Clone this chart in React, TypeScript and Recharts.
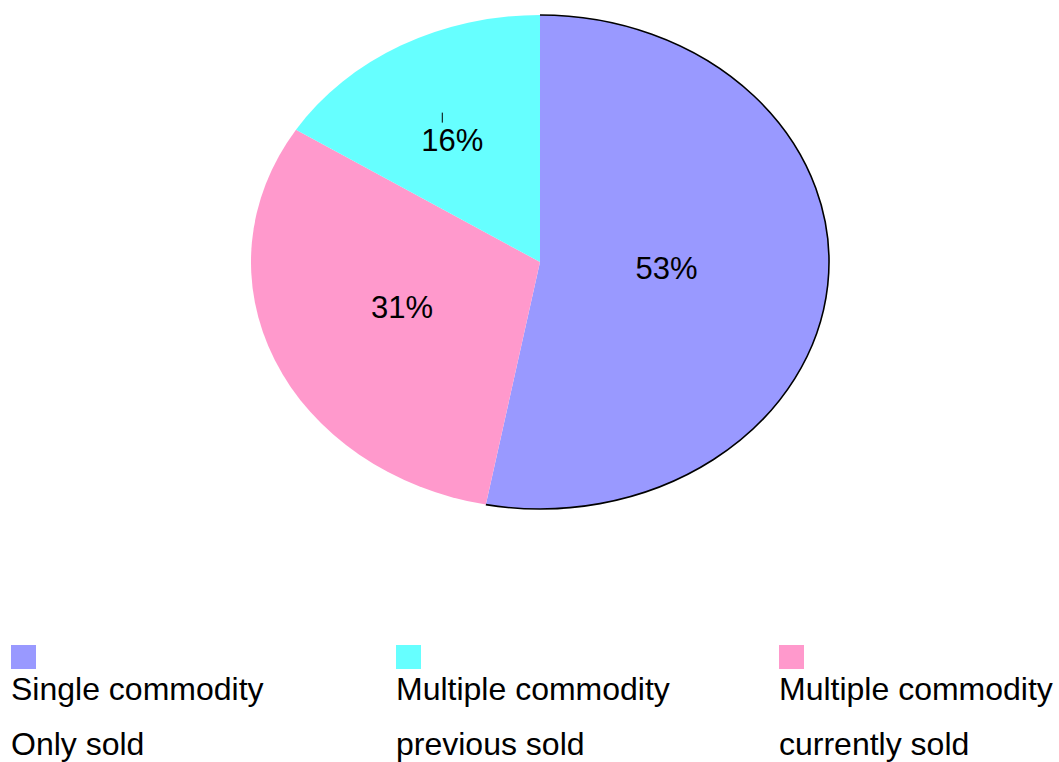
import { PieChart, Pie, Legend } from "recharts"

const categories = [
  ["Single commodity", "Only sold"],
  ["Multiple commodity", "previous sold"],
  ["Multiple commodity", "currently sold"],
]
const shares = [53, 16, 31]
const colors = ["#9999FF", "#66FFFF", "#FF99CC"]
// slices run clockwise from 12 o'clock in this order
const pieOrder = [0, 2, 1]

const pieData = pieOrder.map((i) => ({
  name: categories[i].join(" "),
  value: shares[i],
  fill: colors[i],
  idx: i,
}))

const CX = 540
const CY = 262
const RX = 289
const RY = 247
const RAD = Math.PI / 180
const labelRatio: Record<number, number> = { 0: 0.44, 2: 0.52, 1: 0.63 }
const labelNudge: Record<number, number> = { 0: -4, 2: -6, 1: 14 }

const pt = (a: number, k = 1) => [CX + RX * k * Math.cos(-a * RAD), CY + RY * k * Math.sin(-a * RAD)]

function EllipseSector(props: any) {
  const { startAngle, endAngle, fill, payload } = props
  const [x1, y1] = pt(startAngle)
  const [x2, y2] = pt(endAngle)
  const large = Math.abs(startAngle - endAngle) > 180 ? 1 : 0
  const sweep = startAngle > endAngle ? 1 : 0
  const arc = `M${x1},${y1} A${RX},${RY} 0 ${large} ${sweep} ${x2},${y2}`
  const idx = payload?.idx ?? props.idx
  return (
    <g>
      <path d={`M${CX},${CY} L${x1},${y1} A${RX},${RY} 0 ${large} ${sweep} ${x2},${y2} Z`} fill={fill} stroke="none" />
      {idx === 0 && <path d={arc} fill="none" stroke="#000" strokeWidth={1.6} />}
    </g>
  )
}

function renderLabel(props: any) {
  const { midAngle, value, payload } = props
  const idx = payload?.idx ?? props.idx
  const [x, y0] = pt(midAngle, labelRatio[idx] ?? 0.5)
  const y = y0 + (labelNudge[idx] ?? 0)
  return (
    <g>
      {idx === 1 && <line x1={x - 10} y1={y - 27} x2={x - 10} y2={y - 17} stroke="#000" strokeWidth={1} />}
      <text x={x} y={y + 11} textAnchor="middle" fontSize={31} fill="#000" fontFamily="Arial, 'Liberation Sans', sans-serif">
        {`${value}%`}
      </text>
    </g>
  )
}

function LegendBlock() {
  return (
    <div style={{ position: "relative", width: 1059, height: 117 }}>
      {categories.map((lines, i) => (
        <div key={i} style={{ position: "absolute", left: [11, 396, 779][i], top: 0 }}>
          <div style={{ width: 25, height: 24, background: colors[i] }} />
          <div
            style={{
              marginTop: -7,
              fontFamily: "Arial, 'Liberation Sans', sans-serif",
              fontSize: 32,
              lineHeight: "55px",
              color: "#000",
              whiteSpace: "nowrap",
              textAlign: "left",
            }}
          >
            {lines.map((l) => (
              <div key={l}>{l}</div>
            ))}
          </div>
        </div>
      ))}
    </div>
  )
}

export default function App() {
  return (
    <div style={{ position: "absolute", left: 0, top: 0, width: 1059, height: 762, background: "#fff" }}>
      <PieChart width={1059} height={762} margin={{ top: 0, right: 0, bottom: 0, left: 0 }}>
        <Pie
          data={pieData}
          dataKey="value"
          nameKey="name"
          cx={CX}
          cy={CY}
          outerRadius={RX}
          startAngle={90}
          endAngle={-270}
          shape={EllipseSector}
          activeShape={EllipseSector}
          inactiveShape={EllipseSector}
          label={renderLabel}
          labelLine={false}
          isAnimationActive={false}
        />
        <Legend
          content={() => <LegendBlock />}
          wrapperStyle={{ position: "absolute", left: 0, top: 645, width: 1059 }}
        />
      </PieChart>
    </div>
  )
}
